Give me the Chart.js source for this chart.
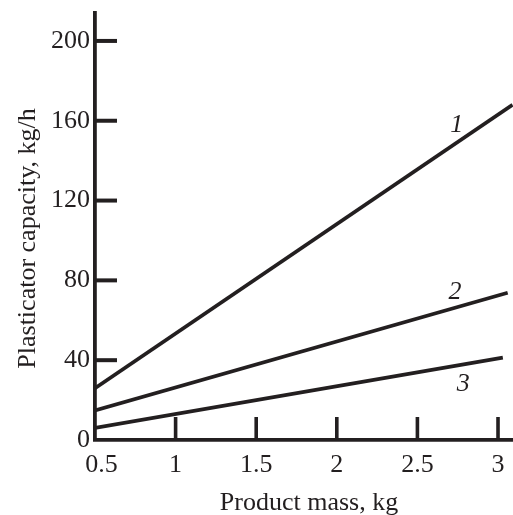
<!DOCTYPE html>
<html><head><meta charset="utf-8">
<script src="https://cdn.jsdelivr.net/npm/chart.js@4"></script>
<style>html,body{margin:0;padding:0;background:#fff;overflow:hidden;}canvas{display:block;}</style>
</head><body>
<canvas id="c" width="513" height="515"></canvas>
<script>
// ---- data ----
const xTicks = [0.5, 1, 1.5, 2, 2.5, 3];
const yTicks = [0, 40, 80, 120, 160, 200];
const series1 = [{x: 0.5, y: 26}, {x: 3.09, y: 168}];
const series2 = [{x: 0.5, y: 14.8}, {x: 3.06, y: 73.8}];
const series3 = [{x: 0.5, y: 6.1}, {x: 3.03, y: 41.3}];
const curveNames = ['1', '2', '3'];
const curveLabelX = [2.744, 2.733, 2.785];
const curveLabelY = [158, 74.3, 28.2];
const xTitle = 'Product mass, kg';
const yTitle = 'Plasticator capacity, kg/h';

// ---- styles ----
const INK = '#231f20';
const FONT_FAMILY = "'Liberation Serif', 'Times New Roman', serif";
const FONT_SIZE = 26;

const decor = {
  id: 'decor',
  afterDraw(chart) {
    const ctx = chart.ctx, xs = chart.scales.x, ys = chart.scales.y, ca = chart.chartArea;
    ctx.save();
    ctx.strokeStyle = INK;
    ctx.lineWidth = 3.6;
    ctx.lineCap = 'butt';
    // inward tick marks on x axis
    xTicks.forEach(v => {
      if (v === xs.min) return;
      const px = xs.getPixelForValue(v);
      ctx.beginPath(); ctx.moveTo(px, ca.bottom); ctx.lineTo(px, ca.bottom - 23); ctx.stroke();
    });
    // inward tick marks on y axis
    ctx.lineWidth = 4;
    yTicks.forEach(v => {
      if (v === ys.min) return;
      const py = ys.getPixelForValue(v);
      ctx.beginPath(); ctx.moveTo(ca.left, py); ctx.lineTo(ca.left + 22, py); ctx.stroke();
    });
    // curve labels
    ctx.fillStyle = INK;
    ctx.font = 'italic ' + FONT_SIZE + 'px ' + FONT_FAMILY;
    ctx.textAlign = 'center'; ctx.textBaseline = 'middle';
    curveNames.forEach((n, i) => {
      ctx.fillText(n, xs.getPixelForValue(curveLabelX[i]), ys.getPixelForValue(curveLabelY[i]));
    });
    // axis titles
    ctx.font = FONT_SIZE + 'px ' + FONT_FAMILY;
    ctx.textBaseline = 'alphabetic';
    ctx.fillText(xTitle, (ca.left + ca.right) / 2 + 5, 510);
    ctx.save();
    ctx.translate(35, (ca.top + ca.bottom) / 2 + 12);
    ctx.rotate(-Math.PI / 2);
    ctx.fillText(yTitle, 0, 0);
    ctx.restore();
    ctx.restore();
  }
};

const lineStyle = {borderColor: INK, borderWidth: 3.7, pointRadius: 0, tension: 0, fill: false};

new Chart(document.getElementById('c'), {
  type: 'line',
  data: {
    datasets: [
      Object.assign({label: '1', data: series1}, lineStyle),
      Object.assign({label: '2', data: series2}, lineStyle),
      Object.assign({label: '3', data: series3}, lineStyle)
    ]
  },
  options: {
    responsive: false,
    animation: false,
    layout: {padding: {top: 13, right: 0, left: 0, bottom: 0}},
    plugins: {legend: {display: false}, tooltip: {enabled: false}, title: {display: false}},
    scales: {
      x: {
        type: 'linear', min: 0.5, max: 3.093,
        afterBuildTicks: s => { s.ticks = xTicks.map(v => ({value: v})); },
        afterFit: s => { s.height = 75; s.paddingLeft = 0; s.paddingRight = 0; },
        grid: {display: false, drawTicks: false},
        border: {display: true, width: 3.8, color: INK},
        ticks: {
          autoSkip: false, maxRotation: 0, padding: 10, color: INK,
          font: {family: FONT_FAMILY, size: FONT_SIZE},
          callback: v => (v === xTicks[0] ? '  ' + v : String(v))
        }
      },
      y: {
        type: 'linear', min: 0, max: 214,
        afterBuildTicks: s => { s.ticks = yTicks.map(v => ({value: v})); },
        afterFit: s => { s.width = 95; s.paddingTop = 0; s.paddingBottom = 0; },
        grid: {display: false, drawTicks: false},
        border: {display: true, width: 3.8, color: INK},
        ticks: {
          autoSkip: false, padding: 5, color: INK,
          font: {family: FONT_FAMILY, size: FONT_SIZE},
          callback: v => String(v)
        }
      }
    }
  },
  plugins: [decor]
});
</script>
</body></html>
